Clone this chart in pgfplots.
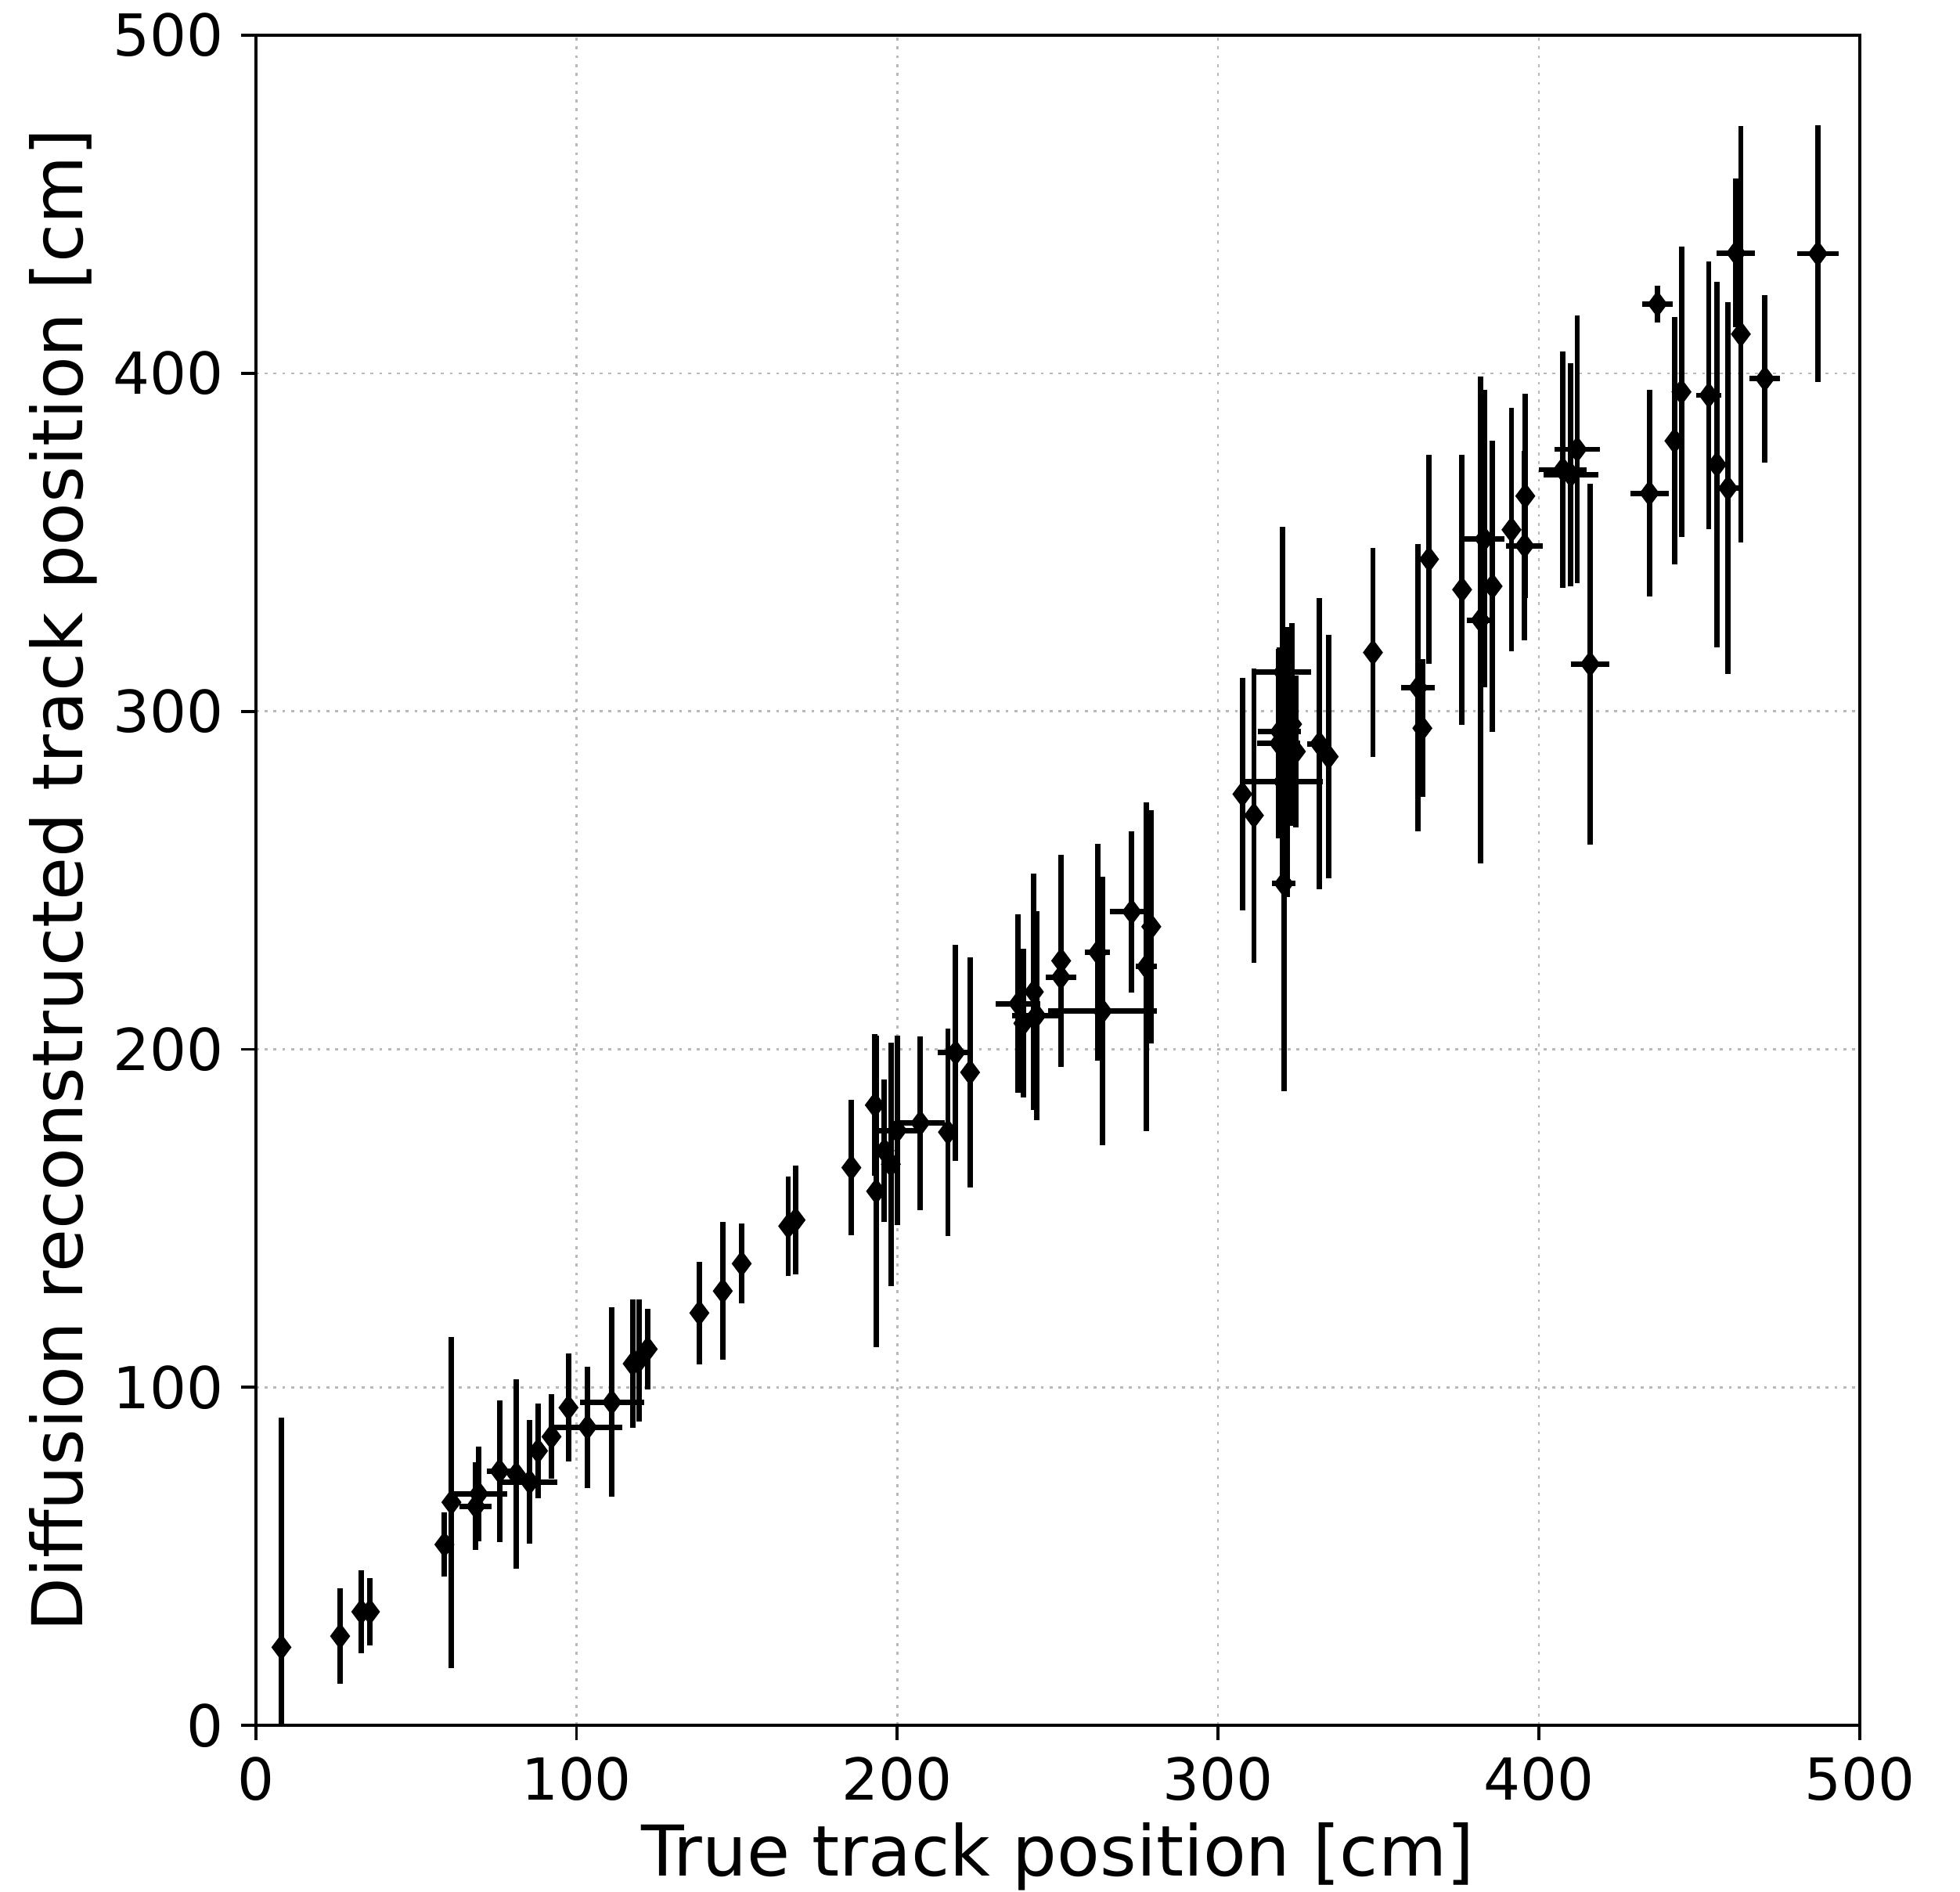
\documentclass[border=0pt]{standalone}
\usepackage{fontspec}
\setmainfont{DejaVu Sans}
\usepackage{pgfplots}
\usepackage{pgfplotstable}
\pgfplotsset{compat=1.18}

% x = true position, y = reconstructed position, ex/ey = errors (cm)
\pgfplotstableread{
x      y      ex    ey
8.0    23.1   0     67.9
26.3   26.4   0     14.2
32.9   33.6   0     12.2
35.6   33.6   0     10.0
58.8   53.5   0     9.5
61.0   66.0   0     49.0
68.6   64.8   5.0   13.0
69.5   68.5   9.0   14.0
76.0   75.2   4.0   21.0
81.2   74.3   0     28.0
85.4   72.0   8.7   18.3
88.0   81.2   0     14.0
92.2   85.4   0     12.5
97.5   94.0   0     16.0
103.4  88.2   10.8  18.0
111.0  95.6   10.0  28.0
117.5  107.0  0     19.0
119.5  108.0  0     18.0
122.2  111.3  0     12.0
138.3  122.0  0     15.2
145.6  128.5  0     20.4
151.5  136.6  0     11.8
166.0  147.7  0     14.7
168.3  149.5  0     16.0
185.7  165.0  0     20.0
193.4  158.0  0     46.0
193.0  183.5  0     21.0
196.0  170.0  0     21.0
198.0  166.0  0     36.0
200.0  176.0  8.0   28.0
207.2  178.2  7.7   25.7
215.8  175.5  0     30.7
218.2  199.0  5.5   32.0
222.7  193.2  0     34.0
237.7  213.5  7.0   26.4
239.3  207.7  0     22.0
242.6  217.0  0     35.0
243.4  210.0  7.5   30.9
251.1  226.2  0     31.4
251.0  221.4  4.7   25.0
262.5  228.7  3.9   32.0
264.0  211.3  16.9  39.7
273.1  240.7  6.9   23.9
277.6  224.5  3.3   48.6
279.2  236.3  0     34.5
307.6  275.5  0     34.3
311.2  269.2  0     43.5
320.2  279.2  12.6  30.0
320.2  311.6  8.9   43.0
319.2  294.0  6.7   25.0
319.0  290.5  6.7   28.0
323.1  296.2  0     30.0
324.3  288.1  0     22.4
320.5  249.0  3.7   61.5
321.5  285.0  0     40.0
331.6  290.4  3.7   43.0
334.5  286.6  0     36.0
348.3  317.4  0     31.0
362.4  307.0  5.3   42.4
363.7  295.0  0     20.4
365.8  345.0  0     31.0
376.1  336.0  0     40.0
381.8  327.0  4.3   72.0
383.0  351.0  6.3   44.0
385.6  337.0  0     43.0
391.5  353.7  0     36.0
395.8  363.7  0     30.3
395.6  349.0  5.7   28.0
407.5  371.5  7.5   35.0
410.0  370.0  8.5   33.0
412.0  377.5  7.0   39.5
416.0  314.0  6.0   53.4
434.5  364.5  6.0   30.5
437.0  420.5  4.8   5.4
442.3  380.0  0     36.6
444.5  394.5  0     43.0
453.0  393.5  3.9   39.5
455.5  373.0  0     54.0
459.0  366.0  3.7   55.0
461.5  435.6  6.0   22.0
463.0  411.6  0     61.6
470.5  398.4  4.8   24.8
487.0  435.4  6.5   38.0
}\tracks

\begin{document}
\begin{tikzpicture}
% page size matching the reference proportions
\useasboundingbox (-52.2pt,-34pt) rectangle (347.8pt,352.1pt);
\begin{axis}[
    at={(0,0)}, anchor=south west,
    width=327.3pt, height=344.9pt, scale only axis,
    xmin=0, xmax=500, ymin=0, ymax=500,
    xtick={0,100,...,500}, ytick={0,100,...,500},
    tick pos=left, tick align=outside,
    major tick length=3pt,
    tick style={black, line width=0.6pt},
    axis line style={black, line width=0.6pt},
    /pgf/number format/assume math mode=true,
    tick label style={font=\fontsize{11.8}{14}\selectfont},
    label style={font=\fontsize{14.3}{17}\selectfont},
    xlabel={True track position [cm]},
    ylabel={Diffusion reconstructed track position [cm]},
    xlabel style={at={(axis description cs:0.5,-0.0777)}, anchor=center},
    ylabel style={at={(axis description cs:-0.12,0.5)}, anchor=center},
    grid=major,
    major grid style={gray!55, line width=0.4pt, dash pattern=on 0.6pt off 1.2pt},
]
\addplot[black, only marks, mark=diamond*, mark size=2.4pt,
         mark options={fill=black, draw=black},
         error bars/.cd,
           x dir=both, x explicit,
           y dir=both, y explicit,
           error mark=none,
           error bar style={line width=1.1pt, black}]
  table[x=x, y=y, x error=ex, y error=ey] {\tracks};
\end{axis}
\end{tikzpicture}
\end{document}
